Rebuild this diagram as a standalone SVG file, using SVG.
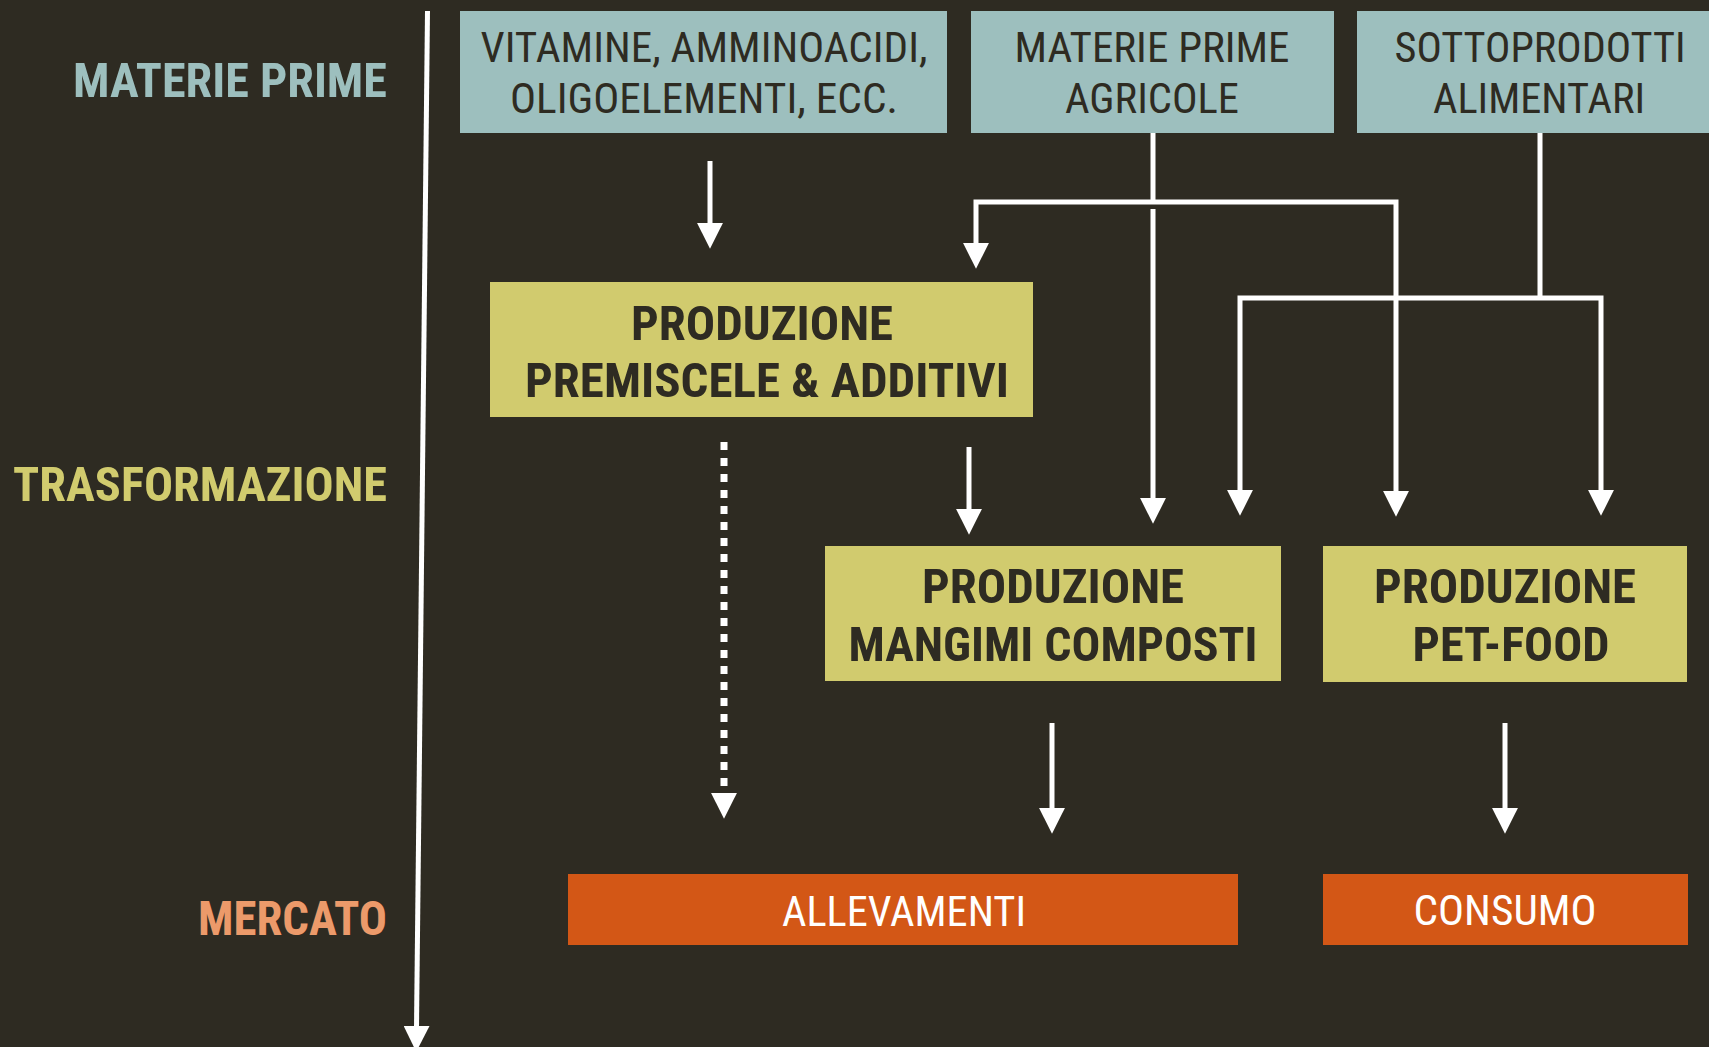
<svg xmlns="http://www.w3.org/2000/svg" width="1709" height="1047" viewBox="0 0 1709 1047">
<style>
.bg{fill:#2e2b22}
.teal{fill:#9dbfbe}
.yel{fill:#d1cb6e}
.org{fill:#d35716}
text{font-family:"Liberation Sans Narrow","Roboto Condensed","Liberation Sans",sans-serif}
.reg{font-size:42px;fill:#2e2b22;text-anchor:middle}
.bold{font-size:49px;font-weight:bold;fill:#2e2b22;text-anchor:middle}
.wht{font-size:43px;fill:#ffffff;text-anchor:middle}
.lab{font-size:49px;font-weight:bold;text-anchor:end}
.conn{stroke:#ffffff;stroke-width:5;fill:none}
</style>
<defs>
<marker id="arr" markerUnits="userSpaceOnUse" markerWidth="26" markerHeight="26" viewBox="0 -12 24 24" refX="2" refY="0" orient="auto">
<path d="M0,-12 L24,0 L0,12 z" fill="#ffffff"/>
</marker>
</defs>
<rect class="bg" x="0" y="0" width="1709" height="1047"/>

<g id="labels">
<text class="lab" x="387" y="97" fill="#9dbfbe" textLength="314" lengthAdjust="spacingAndGlyphs">MATERIE PRIME</text>
<text class="lab" x="387" y="501" fill="#d1cb6e" textLength="374" lengthAdjust="spacingAndGlyphs">TRASFORMAZIONE</text>
<text class="lab" x="387" y="935" fill="#ec9a6a" textLength="189" lengthAdjust="spacingAndGlyphs">MERCATO</text>
</g>

<g id="node-vitamine">
<rect class="teal" x="460" y="11" width="487" height="122"/>
<text class="reg" x="704" y="62" textLength="447" lengthAdjust="spacingAndGlyphs">VITAMINE, AMMINOACIDI,</text>
<text class="reg" x="704" y="113" textLength="388" lengthAdjust="spacingAndGlyphs">OLIGOELEMENTI, ECC.</text>
</g>
<g id="node-agricole">
<rect class="teal" x="971" y="11" width="363" height="122"/>
<text class="reg" x="1152" y="62" textLength="275" lengthAdjust="spacingAndGlyphs">MATERIE PRIME</text>
<text class="reg" x="1152" y="113" textLength="174" lengthAdjust="spacingAndGlyphs">AGRICOLE</text>
</g>
<g id="node-sottoprodotti">
<rect class="teal" x="1357" y="11" width="352" height="122"/>
<text class="reg" x="1540" y="62" textLength="291" lengthAdjust="spacingAndGlyphs">SOTTOPRODOTTI</text>
<text class="reg" x="1539" y="113" textLength="212" lengthAdjust="spacingAndGlyphs">ALIMENTARI</text>
</g>
<g id="node-premiscele">
<rect class="yel" x="490" y="282" width="543" height="135"/>
<text class="bold" x="762" y="340" textLength="262" lengthAdjust="spacingAndGlyphs">PRODUZIONE</text>
<text class="bold" x="767" y="397" textLength="484" lengthAdjust="spacingAndGlyphs">PREMISCELE &amp; ADDITIVI</text>
</g>
<g id="node-mangimi">
<rect class="yel" x="825" y="546" width="456" height="135"/>
<text class="bold" x="1053" y="603" textLength="262" lengthAdjust="spacingAndGlyphs">PRODUZIONE</text>
<text class="bold" x="1053" y="661" textLength="409" lengthAdjust="spacingAndGlyphs">MANGIMI COMPOSTI</text>
</g>
<g id="node-petfood">
<rect class="yel" x="1323" y="546" width="364" height="136"/>
<text class="bold" x="1505" y="603" textLength="262" lengthAdjust="spacingAndGlyphs">PRODUZIONE</text>
<text class="bold" x="1511" y="661" textLength="197" lengthAdjust="spacingAndGlyphs">PET-FOOD</text>
</g>
<g id="node-allevamenti">
<rect class="org" x="568" y="874" width="670" height="71"/>
<text class="wht" x="904" y="926" textLength="244" lengthAdjust="spacingAndGlyphs">ALLEVAMENTI</text>
</g>
<g id="node-consumo">
<rect class="org" x="1323" y="874" width="365" height="71"/>
<text class="wht" x="1505" y="925" textLength="183" lengthAdjust="spacingAndGlyphs">CONSUMO</text>
</g>

<g id="connectors">
<line class="conn" x1="427.5" y1="11" x2="416.5" y2="1028" marker-end="url(#arr)"/>
<line class="conn" x1="710" y1="161" x2="710" y2="225" marker-end="url(#arr)"/>
<line class="conn" x1="1153" y1="133" x2="1153" y2="202"/>
<polyline class="conn" points="1153,202 976,202 976,245" marker-end="url(#arr)"/>
<polyline class="conn" points="1153,202 1396,202 1396,493" marker-end="url(#arr)"/>
<line class="conn" x1="1153" y1="209" x2="1153" y2="500" marker-end="url(#arr)"/>
<line class="conn" x1="1540" y1="133" x2="1540" y2="298"/>
<polyline class="conn" points="1540,298 1240,298 1240,492" marker-end="url(#arr)"/>
<polyline class="conn" points="1540,298 1601,298 1601,492" marker-end="url(#arr)"/>
<line class="conn" x1="969" y1="447" x2="969" y2="511" marker-end="url(#arr)"/>
<line x1="724" y1="442" x2="724" y2="790" stroke="#ffffff" stroke-width="7" stroke-dasharray="8 8"/>
<line x1="724" y1="794" x2="724" y2="795" stroke="#ffffff" stroke-width="0.1" marker-end="url(#arr)"/>
<line class="conn" x1="1052" y1="723" x2="1052" y2="810" marker-end="url(#arr)"/>
<line class="conn" x1="1505" y1="723" x2="1505" y2="810" marker-end="url(#arr)"/>
</g>
</svg>
